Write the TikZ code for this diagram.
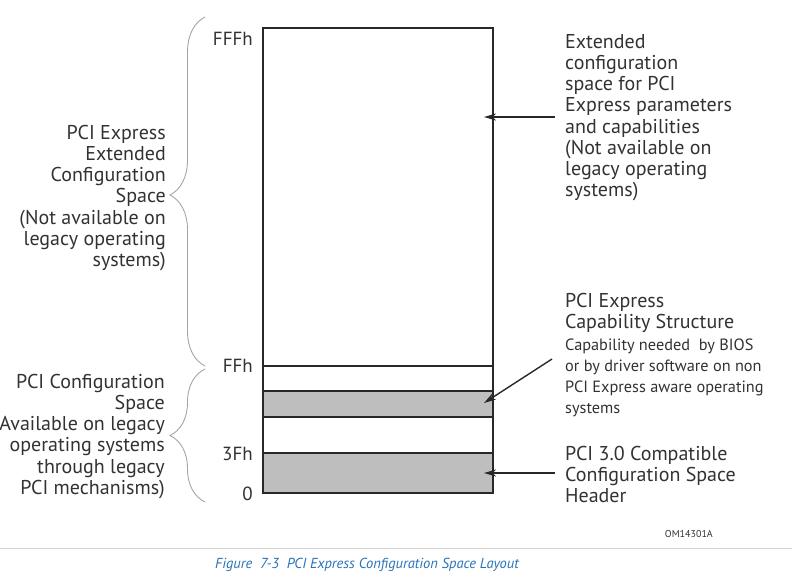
\documentclass[tikz,border=0pt]{standalone}
\usepackage{fontspec}
\setmainfont{PT Sans}
\usetikzlibrary{arrows.meta,decorations.pathreplacing}
\definecolor{txt}{RGB}{50,50,50}
\definecolor{boxline}{RGB}{40,40,40}
\definecolor{cellfill}{RGB}{190,190,190}
\definecolor{bracec}{RGB}{165,165,165}
\definecolor{sepline}{RGB}{210,210,210}
\definecolor{capblue}{RGB}{40,115,185}
\newcommand{\fls}{\rule{0pt}{17pt}}
\tikzset{
  big/.style={font=\fontsize{20}{21.2}\selectfont, text=txt, inner sep=0pt},
  small/.style={font=\fontsize{16.3}{21}\selectfont, text=txt, inner sep=0pt},
  addr/.style={font=\fontsize{19}{21}\selectfont, text=txt, inner sep=0pt, anchor=base east},
  memline/.style={draw=boxline, line width=1.4pt},
  pointer/.style={draw=boxline, line width=1.4pt, -{Stealth[length=12pt,width=7pt,inset=3.5pt]}},
  bracestyle/.style={draw=bracec, line width=0.9pt, decorate},
}
\begin{document}
\begin{tikzpicture}[x=1pt,y=-1pt]
\path[use as bounding box] (0,0) rectangle (792,579);

% memory map
\coordinate (tl) at (263,28);
\coordinate (br) at (493,493);
\fill[cellfill] (263,391) rectangle (493,417);
\fill[cellfill] (263,453) rectangle (493,493);
\draw[memline] (263,366) -- (493,366);
\draw[memline] (263,391) -- (493,391);
\draw[memline] (263,417) -- (493,417);
\draw[memline] (263,453) -- (493,453);
\draw[memline] (tl) rectangle (br);

% address labels
\node[addr] (aFFF) at (253,45) {FFFh};
\node[addr] (aFF) at (253,372) {FFh};
\node[addr] (a3F) at (253,460) {3Fh};
\node[addr] (a0) at (253,500) {0};

% braces
\draw[bracestyle, decoration={brace, amplitude=35pt, aspect=0.49}] (205,366) -- (205,17);
\draw[bracestyle, decoration={brace, amplitude=35pt, aspect=0.5}] (205,502) -- (205,369);

% left texts
\node[big, align=right, anchor=north east] (lext) at (166,122)
  {\fls PCI Express\\Extended\\Configuration\\Space\\(Not available on\\legacy operating\\systems)};
\node[big, align=right, anchor=north east] (lpci) at (165,371)
  {\fls PCI Configuration\\Space\\Available on legacy\\operating systems\hspace{7pt}\\through legacy\\PCI mechanisms)};

% right texts
\node[big, align=left, anchor=north west] (rext) at (565,31)
  {\fls Extended\\configuration\\space for PCI\\Express parameters\\and capabilities\\(Not available on\\legacy operating\\systems)};
\node[big, align=left, anchor=north west] (rcap) at (565,290)
  {\fls PCI Express\\Capability Structure};
\node[small, align=left, anchor=north west] (rcapd) at (565,333)
  {\fls Capability needed\ \ by BIOS\\or by driver software on non\\PCI Express aware operating\\systems};
\node[big, align=left, anchor=north west] (rhdr) at (565,443)
  {\fls PCI 3.0 Compatible\\Configuration Space\\Header};

% pointers
\coordinate (p1s) at (555,117);
\coordinate (p1e) at (484,117);
\coordinate (p2s) at (552,359);
\coordinate (p2e) at (484,403);
\coordinate (p3s) at (555,473);
\coordinate (p3e) at (484,473);
\draw[pointer] (p1s) -- (p1e);
\draw[pointer] (p2s) -- (p2e);
\draw[pointer] (p3s) -- (p3e);

% figure id and caption
\node[font=\fontsize{10}{12}\selectfont, text=txt, inner sep=0pt, anchor=base east] (figid) at (713,537) {OM14301A};
\draw[draw=sepline, line width=1pt] (0,548) -- (792,548);
\node[font=\fontsize{14.5}{17}\selectfont\itshape, text=capblue, inner sep=0pt, anchor=base west] (cap) at (215,568)
  {Figure\ \ 7-3\ \ PCI Express Configuration Space Layout};
\end{tikzpicture}
\end{document}
